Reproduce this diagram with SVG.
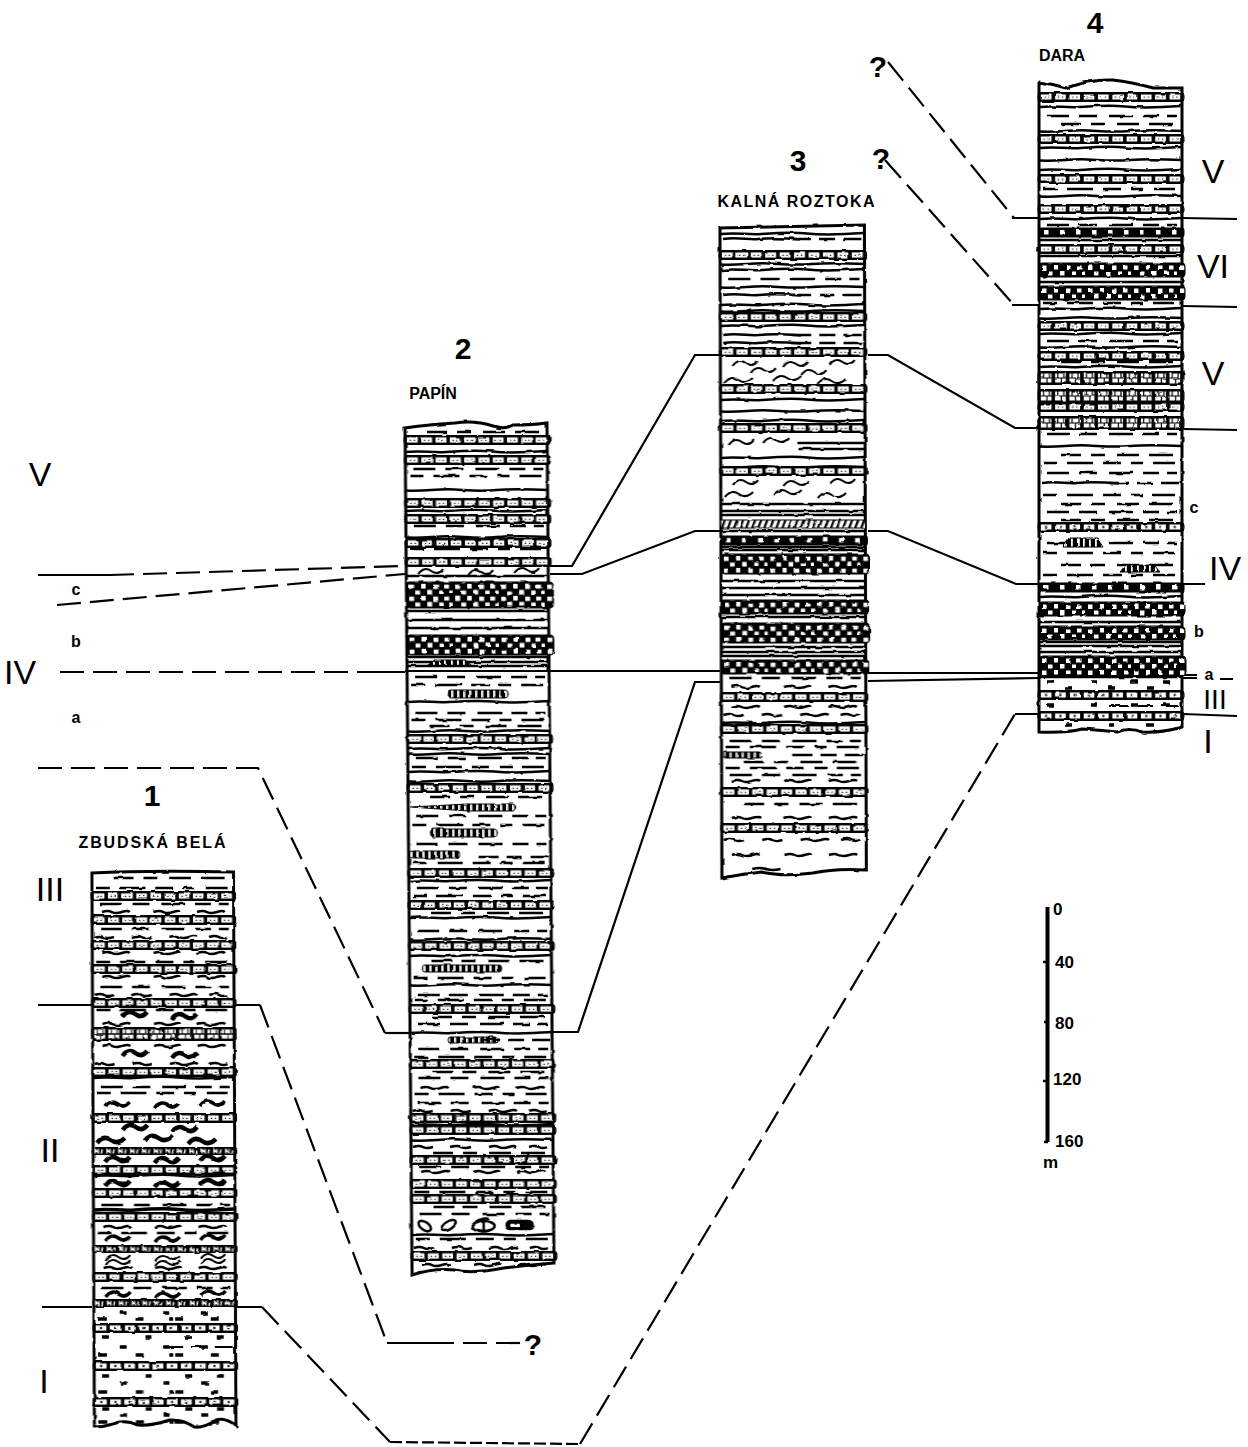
<svg xmlns="http://www.w3.org/2000/svg" width="1248" height="1447" viewBox="0 0 1248 1447">
<style>
text{font-family:"Liberation Sans Narrow","Liberation Sans",Arial,sans-serif;fill:#000}
.col{fill:none;stroke:#000;stroke-width:2.500;filter:url(#r)}
.o{stroke-width:3}
.t{stroke-width:4.500}
.s{stroke-width:2}
.k{stroke-width:3.500}
.n{font-size:30px;font-weight:700;text-anchor:middle}
.h{font-size:16px;font-weight:700;text-anchor:middle}
.r{font-size:34px;text-anchor:middle}
.m{font-size:16px;font-weight:700;text-anchor:middle}
.sc{font-size:17px;font-weight:700}
#connectors{fill:none;stroke:#000;stroke-width:2.200}
.ds{stroke-dasharray:24 9}
.lk{fill:url(#pl);stroke:#000;stroke-width:1}
</style>
<defs>
<filter id="r" x="-3%" y="-1%" width="106%" height="102%"><feTurbulence type="fractalNoise" baseFrequency=".09" numOctaves="2" seed="4"/><feDisplacementMap in="SourceGraphic" scale="2.600" xChannelSelector="R" yChannelSelector="G"/><feGaussianBlur stdDeviation=".35"/></filter>
<pattern id="pb" patternUnits="userSpaceOnUse" x="0" y="-4.500" width="14.3" height="9"><rect width="14.3" height="9" fill="#000"/><rect x="1.800" y="2" width="10.700" height="5" fill="#fff"/><path d="M4.500 4.800h1.400M8.500 4.800h1.400" stroke="#000" stroke-width="1"/></pattern>
<pattern id="pt" patternUnits="userSpaceOnUse" x="0" y="-6.500" width="14.3" height="13"><rect width="14.3" height="13" fill="#000"/><rect x="1.800" y="2" width="10.700" height="9" fill="#fff"/><path d="M1.800 6.500h10.700M4.500 2v4.500M8 6.500v4.500M10.500 2v4.500" stroke="#000" stroke-width="1.200"/></pattern>
<pattern id="pc" patternUnits="userSpaceOnUse" x="0" y="-4.500" width="14.3" height="9"><rect width="14.3" height="9" fill="#000"/><rect x="1.800" y="2" width="10.700" height="5" fill="#fff"/><rect x="6" y="3.500" width="2.200" height="2" fill="#000"/></pattern>
<pattern id="pz" patternUnits="userSpaceOnUse" x="0" y="-3.500" width="12" height="7"><rect width="12" height="7" fill="#000"/><path d="M2 6V2l3 3V1.500M8 6l1-4" fill="none" stroke="#fff" stroke-width="1.300"/></pattern>
<pattern id="pg" patternUnits="userSpaceOnUse" x="0" y="0" width="16" height="9"><rect width="16" height="9" fill="#000"/><rect x="5" y="2" width="4.500" height="4.500" fill="#fff"/></pattern>
<pattern id="pd" patternUnits="userSpaceOnUse" x="0" y="1" width="46" height="12"><rect width="46" height="12" fill="#000"/><path d="M3 1.500h4.500v4.500h-4.500zM15 1h4v4.500h-4zM27 1.500h4.500v4.500h-4.500zM38 1.500h4.500v4h-4.500zM9 7.500h4.500v4h-4.500zM21 7h4.500v4.500h-4.500zM33 7.500h4v3.500h-4zM43 7.500h3v3.500h-3z" fill="#fff"/></pattern>
<pattern id="ph" patternUnits="userSpaceOnUse" x="0" y="0" width="6" height="8"><rect width="6" height="8" fill="#fff"/><path d="M1 8L4 0" stroke="#000" stroke-width="2.400" fill="none"/></pattern>
<pattern id="pl" patternUnits="userSpaceOnUse" x="0" y="0" width="6" height="8"><rect width="6" height="8" fill="#000"/><rect x="2" y="0" width="1.800" height="8" fill="#fff"/></pattern>
<rect id="B" x="-1" y="-4.500" width="146" height="9" rx="3" fill="url(#pb)" stroke-width="1"/>
<rect id="T" x="-1" y="-6.500" width="146" height="13" rx="3" fill="url(#pt)" stroke-width="1"/>
<rect id="C" x="-1" y="-4.500" width="146" height="9" rx="3" fill="url(#pc)" stroke-width="1"/>
<rect id="Z" x="-1" y="-3.500" width="146" height="7" rx="2" fill="url(#pz)" stroke-width="1"/>
<rect id="g8" x="0" y="0" width="145" height="9" rx="2" fill="url(#pg)" stroke-width="1"/>
<rect id="g14" x="0" y="0" width="146" height="14" rx="3" fill="url(#pd)" stroke-width="1"/>
<rect id="g20" x="0" y="0" width="147" height="20" rx="4" fill="url(#pd)" stroke-width="1"/>
<rect id="g26" x="0" y="0" width="147" height="26" rx="4" fill="url(#pd)" stroke-width="1"/>
<path id="l" d="M0 0H143"/>
<path id="w1" d="M1 0c15-2 25 1 40 0s30-2 45-.5 35 1 56-.5"/>
<path id="w2" d="M1 .5c20 1 30-2 48-1s25 2 42 .5 32-1 52 0"/>
<path id="hl" d="M3 0c15-2 25 1 35 0s24-1 42 .5"/>
<path id="hr" d="M70 0h20M98 0h16M122 0h18"/>
<path id="d1" d="M8 0h22M40 0h18M70 0h24M104 0h16M128 0h10"/>
<path id="d2" d="M22 0h20M52 0h14M78 0h22M110 0h24"/>
<path id="d3" d="M4 0h14M28 0h26M64 0h18M92 0h12M114 0h22"/>
<path id="v1" d="M10 0q6-2 10 0t10 0t8 0M62 0q6-2 10 0t10 0t6 0M106 0q6-2 10 0t10 0t8 0"/>
<path id="v2" d="M2 0q6-2 10 0t10 0M40 0q6-2 10 0t10 0M78 0q6-2 10 0t10 0t8 0M118 0q6-2 10 0t8 0"/>
<path id="s1" d="M12 2c4-6 9-6 13-3s8 3 12-2M62 3c4-6 9-6 13-3s8 3 12-2M108 1c4-6 9-6 13-3s8 3 12-2"/>
<path id="s2" d="M30 1c4-6 9-6 13-3s8 3 12-2M80 3c4-6 9-6 13-3s8 3 12-2"/>
<path id="s3" d="M4 2c5-6 10-6 14-3s9 3 14-2M52 0c5-6 10-6 14-3s9 3 14-2M96 3c5-6 10-6 14-3s9 3 14-2"/>
<path id="p1" d="M8 0h7M52 0h6M92 0h7M124 0h7"/>
<path id="p2" d="M26 0h7M70 0h6M108 0h7"/>
<path id="p3" d="M4 0h9M42 0h8M76 0h4M82 0h8M118 0h8"/>
</defs>
<rect width="1248" height="1447" fill="#fff"/>
<g id="connectors">
<path class="ds" d="M888 62L1014 218"/><path d="M1012 218H1040M1183 218L1237 219"/>
<path class="ds" d="M885 160L1014 305"/><path d="M1012 305H1040M1183 306L1237 307"/>
<path d="M868 355H888L1015 428H1040M1183 429L1237 430"/>
<path d="M550 566H572L695 355H720"/>
<path d="M550 574H582L695 531H720M868 531H888L1016 584H1040M1183 584H1205"/>
<path d="M38 575H110"/><path class="ds" d="M110 575L405 566"/>
<path class="ds" d="M57 605L405 574"/>
<path class="ds" d="M60 672H375"/><path d="M375 672H405M405 671H720M868 673H1040M1183 675H1197"/>
<path d="M550 1032H578L695 682H720M868 681L1040 678M1183 678H1197M1220 679H1233"/>
<path class="ds" d="M38 768H258L385 1033"/><path d="M385 1033H410"/>
<path d="M38 1005H92M235 1005H260"/><path class="ds" d="M260 1005L387 1343"/><path d="M387 1343H430"/><path class="ds" d="M430 1343H520"/>
<path d="M42 1307H92M235 1307H262"/><path class="ds" d="M262 1307L390 1442"/><path d="M390 1442L580 1444" stroke-dasharray="12 4"/><path class="ds" d="M580 1444L1015 714"/><path d="M1015 714H1040M1183 714L1237 716"/>
</g>
<g id="column-4">
<g class="col" transform="translate(1039 0)">
<path class="o" d="M0 732V82q14 2 27 6q24-9 47-8q18 2 40 8h29V727q-20 6-40 5q-12-5-25 0q-20-2-35-3q-15 4-43 3z"/>
<use href="#B" y="97"/><use href="#w1" y="107"/><use href="#d1" y="116"/><use href="#d2" y="124"/><use href="#w2" y="131"/><use href="#B" y="139"/><use href="#w1" y="148"/><use href="#w2" y="160"/><use href="#w1" y="170"/><use href="#B" y="179"/><use href="#d3" y="189"/><use href="#w2" y="196"/><use href="#B" y="209"/><use href="#w1" y="219"/><use href="#d1" y="225"/>
<use href="#g8" y="228"/><use href="#l" y="240"/><use href="#B" y="249"/><use href="#l" y="256"/><use href="#g14" y="263"/><use href="#l" y="282"/><use href="#g14" y="286"/><use href="#d3" y="303"/><use href="#w1" y="309"/><use href="#w2" y="318"/><use href="#B" y="326"/><use href="#w1" y="334"/><use href="#d1" y="341"/><use href="#w2" y="347"/><use href="#B" y="356"/><use href="#d2" y="362"/><use href="#w1" y="367"/>
<use href="#T" y="378"/><use href="#T" y="396"/><use href="#B" y="407"/><use href="#T" y="423"/><use href="#d1" y="434"/>
<use href="#w2" y="446"/><use href="#d2" y="455"/><use href="#d3" y="463"/><use href="#d1" y="473"/><use href="#hl" y="483"/><use href="#hr" y="483"/><use href="#d3" y="495"/><use href="#d2" y="504"/><use href="#d1" y="512"/><use href="#d2" y="520"/><use href="#C" y="527"/>
<use href="#d1" y="543"/><path class="lk" d="M24 547l6-9h28l6 9z"/><use href="#d3" y="553"/><use href="#d2" y="565"/><path class="lk" d="M81 572l6-7h28l6 7z"/><use href="#d3" y="575"/>
<use href="#g8" y="583"/><use href="#w1" y="597"/><use href="#g14" y="602"/><use href="#l" y="622"/><use href="#g14" y="626"/><use href="#l" y="642"/><use href="#l" y="646"/><use href="#l" y="652"/><use href="#g20" y="656"/><use href="#l" y="677"/><use class="k" href="#p1" y="682"/><use class="k" href="#p2" y="688"/><use href="#C" y="695"/><use class="k" href="#p1" y="705"/><use class="s" href="#hr" y="706"/><use href="#C" y="716"/><use class="k" href="#p2" y="725"/>
</g>
<text class="n" x="1095" y="33">4</text>
<text class="h" x="1062" y="61">DARA</text>
<text class="r" x="1213" y="183">V</text>
<text class="r" x="1213" y="278">VI</text>
<text class="r" x="1213" y="385">V</text>
<text class="m" x="1194" y="513">c</text>
<text class="r" x="1225" y="580">IV</text>
<text class="m" x="1199" y="637">b</text>
<text class="m" x="1209" y="680">a</text>
<text class="r" x="1215" y="709" style="font-size:28px">III</text>
<text class="r" x="1208" y="753">I</text>
</g>
<g id="column-3">
<g class="col" transform="matrix(1.010 0 .003 1 719.300 0)">
<path class="o" d="M0 878V228L143 225V870q-30-2-53 3q-30 4-50-1q-20 2-40 6z"/>
<use href="#w1" y="234"/><use href="#hl" y="239"/><use href="#hr" y="239"/><use href="#B" y="255"/><use href="#w2" y="264"/><use href="#w1" y="270"/><use href="#d1" y="279"/><use href="#w2" y="287"/><use href="#hl" y="295"/><use href="#hr" y="295"/><use href="#w1" y="305"/><use href="#w2" y="311"/><use href="#B" y="317"/><use href="#w1" y="326"/><use href="#hl" y="335"/><use href="#hr" y="335"/><use href="#hl" y="343"/><use href="#hr" y="343"/><use href="#B" y="352"/>
<use class="s" href="#s1" y="364"/><use class="s" href="#s2" y="372"/><use class="s" href="#s3" y="381"/><use href="#B" y="389"/><use href="#w1" y="400"/><use href="#w2" y="411"/><use href="#w1" y="421"/><use href="#B" y="428"/>
<path class="s" d="M8 445c4-6 9-6 13-3s8 3 12-2M42 443c4-6 9-6 13-3s8 3 12-2"/><path d="M76 443H142M78 449H142"/><use href="#w1" y="458"/><use href="#w2" y="467"/><use href="#B" y="471"/><use class="s" href="#s1" y="483"/><use class="s" href="#s3" y="495"/><use href="#l" y="504"/><use href="#l" y="511"/><use href="#l" y="515"/>
<rect x="0" y="520" width="143" height="8" fill="url(#ph)" stroke-width="1"/><use href="#l" y="531"/><use href="#g8" y="536"/><use href="#l" y="547"/><use href="#l" y="550"/><use href="#g20" y="554"/><use href="#l" y="581"/><use href="#l" y="588"/><use href="#l" y="595"/><use href="#g14" y="600"/><use href="#l" y="617"/><use href="#g20" y="623"/><use href="#l" y="647"/><use href="#l" y="652"/><use href="#l" y="656"/><use href="#g14" y="660"/>
<use href="#d1" y="678"/><use href="#v1" y="687"/><use href="#B" y="697"/><use href="#v1" y="707"/><use href="#v2" y="715"/><use href="#w1" y="723"/><use href="#B" y="729"/><use href="#d1" y="741"/><use href="#d3" y="747"/><rect class="lk" x="2" y="752" width="38" height="6" rx="2"/><use href="#hr" y="755"/><use href="#d2" y="762"/><use href="#d3" y="768"/><use href="#d1" y="775"/><use href="#v1" y="781"/><use href="#B" y="792"/><use href="#d2" y="804"/><use href="#v1" y="818"/><use href="#B" y="828"/><use href="#v2" y="840"/><use href="#v1" y="855"/><path d="M30 869q8-2 14 0t14 0"/>
</g>
<text class="n" x="798" y="171">3</text>
<text class="h" x="796" y="207" textLength="157">KALNÁ ROZTOKA</text>
</g>
<g id="column-2">
<g class="col" transform="matrix(1 0 .0083 1 401.500 0)">
<path class="o" d="M0 1275V428q20-3 50-5q20-3 38 3q12 4 20-1q20 0 34-2V1263q-25 2-50 5q-30 6-50 2q-20-2-42 5z"/>
<use href="#d2" y="432"/><use href="#B" y="440"/><use href="#w1" y="452"/><use href="#B" y="460"/><use href="#d1" y="469"/><use href="#d3" y="476"/><use href="#w2" y="490"/><use href="#B" y="503"/><use href="#w1" y="511"/><use href="#B" y="519"/><use href="#d1" y="526"/><use href="#w2" y="537"/><use href="#B" y="543"/><use href="#d3" y="549"/><use href="#B" y="562"/><use class="s" href="#s1" y="572"/><use href="#l" y="576"/>
<use href="#g26" y="582"/><use href="#l" y="611"/><use href="#l" y="620"/><use href="#l" y="628"/><use href="#g20" y="635"/><use href="#l" y="657"/><use href="#l" y="662"/><path class="lk" d="M20 666l8-6h30l7 6z"/><use href="#l" y="666"/>
<use href="#d1" y="677"/><use href="#d3" y="685"/><rect class="lk" x="40" y="690" width="61" height="8" rx="4"/><use href="#w1" y="702"/><use href="#d1" y="713"/><use href="#d3" y="720"/><use href="#d2" y="726"/><use href="#w2" y="731"/><use href="#B" y="739"/><use href="#w1" y="749"/><use href="#w2" y="754"/><use href="#d1" y="758"/><use href="#d3" y="767"/><use href="#w1" y="772"/><use href="#w2" y="781"/><use href="#B" y="788"/><use href="#d2" y="797"/><path class="lk" d="M2 807L60 804L105 804Q110 807 105 811L60 811Z"/><use href="#d1" y="816"/><use href="#d3" y="825"/><rect class="lk" x="22" y="829" width="67" height="8" rx="4"/><use href="#d1" y="844"/><rect class="lk" x="1" y="851" width="50" height="7" rx="3"/><use href="#hr" y="857"/><use href="#d3" y="863"/><use href="#B" y="873"/><use href="#w1" y="881"/><use href="#d1" y="888"/><use href="#d3" y="896"/><use href="#B" y="905"/><use href="#d2" y="913"/><use href="#w1" y="918"/><use href="#d1" y="931"/><use href="#w2" y="939"/><use href="#B" y="946"/><use href="#w1" y="956"/><use href="#d2" y="961"/><rect class="lk" x="13" y="965" width="79" height="7" rx="3"/><use href="#d3" y="978"/><use href="#w2" y="985"/><use href="#d1" y="995"/><use href="#d3" y="1000"/><use href="#B" y="1009"/>
<use href="#d2" y="1017"/><use href="#d1" y="1024"/><use href="#w1" y="1033"/><rect class="lk" x="38" y="1037" width="50" height="6" rx="3"/><use href="#hr" y="1040"/><use href="#d1" y="1049"/><use href="#d3" y="1057"/><use href="#B" y="1064"/><use href="#d2" y="1072"/><use href="#d1" y="1078"/><use href="#v1" y="1088"/><use href="#d3" y="1094"/><use href="#d1" y="1103"/><use href="#v2" y="1111"/><use href="#B" y="1118"/><use href="#w1" y="1125"/><use href="#B" y="1130"/><use href="#w2" y="1140"/><use href="#v2" y="1147"/><use href="#d2" y="1153"/><use href="#B" y="1160"/><use href="#d1" y="1167"/><use href="#v1" y="1172"/><use href="#B" y="1184"/><use href="#d3" y="1192"/><use href="#B" y="1199"/><use href="#d2" y="1207"/><use href="#d1" y="1214"/>
<ellipse cx="13" cy="1226" rx="7" ry="4" transform="rotate(35 13 1226)"/><ellipse cx="37" cy="1225" rx="8" ry="3.500" transform="rotate(-30 37 1225)"/><ellipse cx="72" cy="1226" rx="11" ry="5"/><path d="M64 1222q6-5 14-3M66 1230q8 3 12 0M72 1220v12"/><rect x="95" y="1221" width="26" height="8" rx="4" fill="#000"/><rect x="99" y="1224" width="9" height="3" fill="#fff" stroke="none"/>
<use href="#w1" y="1235"/><use href="#d3" y="1239"/><use href="#v2" y="1248"/><use href="#B" y="1256"/><use href="#v1" y="1265"/>
</g>
<text class="n" x="463" y="359">2</text>
<text class="h" x="433" y="399">PAPÍN</text>
</g>
<g id="column-1">
<g class="col" transform="matrix(.990 0 .0045 1 88 0)">
<path class="o" d="M0 1427V873q60-3 143-1V1425q-12-8-20-5q-12 8-22 7q-12-8-25-7q-18 6-32 5q-14-6-25-1q-10 3-19 3z"/>
<use href="#d2" y="878"/><use href="#d3" y="888"/><use href="#B" y="896"/><use href="#d1" y="904"/><use href="#v1" y="912"/><use href="#B" y="920"/><use href="#d1" y="929"/><use href="#v2" y="937"/><use href="#B" y="945"/><use href="#v1" y="953"/><use href="#d3" y="962"/><use href="#B" y="969"/><use href="#v1" y="977"/><use href="#d1" y="987"/><use href="#v2" y="995"/><use href="#B" y="1003"/><use href="#d3" y="1010"/><use class="t" href="#s2" y="1016"/><use href="#v1" y="1024"/><use href="#T" y="1034"/>
<use href="#v1" y="1046"/><use class="t" href="#s2" y="1055"/><use href="#v2" y="1064"/><use href="#B" y="1072"/><use href="#w1" y="1078"/><use href="#d1" y="1087"/><use href="#d3" y="1093"/><use class="k" href="#s1" y="1105"/><use href="#B" y="1118"/><use class="t" href="#s2" y="1129"/><use class="t" href="#s3" y="1141"/><use href="#Z" y="1151"/>
<use class="t" href="#s1" y="1160"/><use href="#B" y="1170"/><use href="#w1" y="1176"/><use class="t" href="#s1" y="1184"/><use href="#B" y="1193"/><use href="#d1" y="1205"/><use class="k" href="#w1" y="1210"/><use href="#B" y="1217"/><use href="#v1" y="1227"/><use href="#d3" y="1233"/><use class="k" href="#s1" y="1239"/><use href="#Z" y="1249"/><use class="s" href="#s1" y="1258"/><use class="s" href="#s1" y="1263"/><use href="#v1" y="1268"/><use href="#B" y="1277"/><use href="#d1" y="1288"/><use class="k" href="#s1" y="1295"/><use href="#Z" y="1303"/><use class="k" href="#p2" y="1313"/><use class="k" href="#p3" y="1319"/><use href="#C" y="1328"/><use class="k" href="#p1" y="1337"/><use class="k" href="#p2" y="1347"/><use class="s" href="#hr" y="1347"/><use class="k" href="#p3" y="1355"/><use href="#C" y="1366"/><use class="k" href="#p1" y="1376"/><use class="k" href="#p2" y="1383"/><use class="k" href="#p3" y="1392"/><use href="#C" y="1402"/><use class="k" href="#p1" y="1409"/><use class="k" href="#p2" y="1415"/><use class="k" href="#p3" y="1422"/>
</g>
<text class="n" x="152" y="806">1</text>
<text class="h" x="152" y="848" textLength="147">ZBUDSKÁ BELÁ</text>
</g>
<g id="labels">
<text class="n" x="878" y="77">?</text>
<text class="n" x="881" y="169">?</text>
<text class="r" x="40" y="486">V</text>
<text class="m" x="76" y="595">c</text>
<text class="m" x="76" y="647">b</text>
<text class="r" x="20" y="684">IV</text>
<text class="m" x="76" y="723">a</text>
<text class="r" x="50" y="901">III</text>
<text class="r" x="50" y="1162">II</text>
<text class="r" x="44" y="1393">I</text>
<text class="n" x="533" y="1355">?</text>
</g>
<g id="scale">
<path d="M1047.500 907V1142" fill="none" stroke="#000" stroke-width="4"/>
<path d="M1043 962h4M1044 1022h4M1043 1081h4M1044 1142h4" fill="none" stroke="#000" stroke-width="2.500"/>
<text class="sc" x="1053" y="915">0</text>
<text class="sc" x="1055" y="968">40</text>
<text class="sc" x="1055" y="1029">80</text>
<text class="sc" x="1053" y="1085">120</text>
<text class="sc" x="1055" y="1147">160</text>
<text class="sc" x="1043" y="1168">m</text>
</g>
</svg>
